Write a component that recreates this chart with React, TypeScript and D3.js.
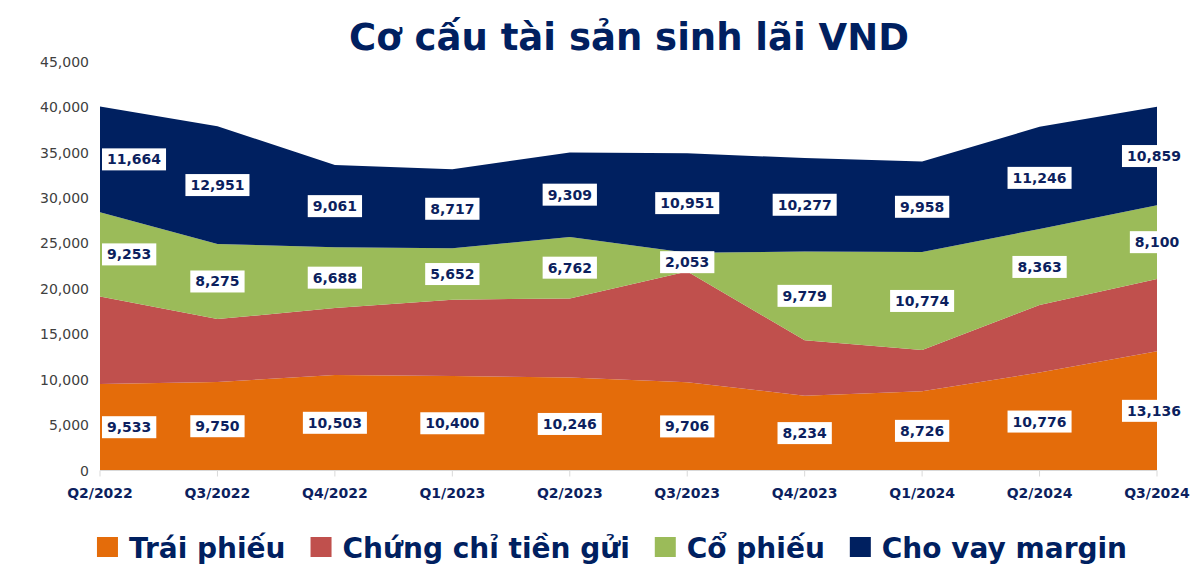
import React, { useEffect, useRef } from 'react';
import * as d3 from 'd3';

const categories = ['Q2/2022', 'Q3/2022', 'Q4/2022', 'Q1/2023', 'Q2/2023', 'Q3/2023', 'Q4/2023', 'Q1/2024', 'Q2/2024', 'Q3/2024'];
const traiPhieu = [9533, 9750, 10503, 10400, 10246, 9706, 8234, 8726, 10776, 13136];
const chungChiTienGui = [9630, 6920, 7380, 8400, 8700, 12200, 6100, 4550, 7450, 7950];
const coPhieu = [9253, 8275, 6688, 5652, 6762, 2053, 9779, 10774, 8363, 8100];
const choVayMargin = [11664, 12951, 9061, 8717, 9309, 10951, 10277, 9958, 11246, 10859];
const yTicks = [0, 5000, 10000, 15000, 20000, 25000, 30000, 35000, 40000, 45000];
const seriesNames = ['Trái phiếu', 'Chứng chỉ tiền gửi', 'Cổ phiếu', 'Cho vay margin'];
const seriesColors = ['#E46C0A', '#C0504D', '#9BBB59', '#002060'];
const showLabels = [true, false, true, true];
const title = 'Cơ cấu tài sản sinh lãi VND';

const W = 1200;
const H = 576;
const FONT = "'DejaVu Sans', Verdana, sans-serif";
const NAVY = '#0C1F5E';

export default function App() {
  const ref = useRef<SVGSVGElement>(null);

  useEffect(() => {
    const svg = d3.select(ref.current);
    svg.selectAll('*').remove();

    const left = 100, right = 1157, top = 61.7, bottom = 470.5;
    const x = d3.scalePoint<string>().domain(categories).range([left, right]);
    const y = d3.scaleLinear().domain([0, 45000]).range([bottom, top]);

    const rows = categories.map((c, i) => ({
      cat: c,
      s0: traiPhieu[i],
      s1: chungChiTienGui[i],
      s2: coPhieu[i],
      s3: choVayMargin[i],
    }));
    const keys = ['s0', 's1', 's2', 's3'];
    const stacked = d3.stack<any>().keys(keys)(rows);

    const area = d3.area<any>()
      .x((d) => x(d.data.cat) as number)
      .y0((d) => y(d[0]))
      .y1((d) => y(d[1]));

    // title
    svg.append('text')
      .attr('x', 629).attr('y', 50)
      .attr('text-anchor', 'middle')
      .attr('font-family', FONT)
      .attr('font-weight', 'bold')
      .attr('font-size', 37)
      .attr('fill', '#002060')
      .text(title);

    // areas
    svg.append('g').selectAll('path')
      .data(stacked)
      .join('path')
      .attr('d', (s) => area(s as any) as string)
      .attr('fill', (_, i) => seriesColors[i]);

    // y axis labels
    const gy = svg.append('g');
    yTicks.forEach((t) => {
      gy.append('text')
        .attr('x', 89).attr('y', y(t) + 5)
        .attr('text-anchor', 'end')
        .attr('font-family', FONT)
        .attr('font-size', 14)
        .attr('fill', '#404040')
        .text(d3.format(',')(t));
    });

    // x axis
    const gx = svg.append('g');
    gx.append('line')
      .attr('x1', left).attr('x2', right)
      .attr('y1', bottom).attr('y2', bottom)
      .attr('stroke', '#D9D9D9').attr('stroke-width', 1);
    categories.forEach((c) => {
      const xx = x(c) as number;
      gx.append('line')
        .attr('x1', xx).attr('x2', xx)
        .attr('y1', bottom).attr('y2', bottom + 6)
        .attr('stroke', '#D9D9D9').attr('stroke-width', 1);
      gx.append('text')
        .attr('x', xx).attr('y', 498)
        .attr('text-anchor', 'middle')
        .attr('font-family', FONT)
        .attr('font-weight', 'bold')
        .attr('font-size', 14)
        .attr('fill', NAVY)
        .text(c);
    });

    // data labels
    const gl = svg.append('g');
    stacked.forEach((s, si) => {
      if (!showLabels[si]) return;
      s.forEach((d: any) => {
        const val = d[1] - d[0];
        const cx = x(d.data.cat) as number;
        const cy = y((d[0] + d[1]) / 2);
        const g = gl.append('g');
        const rect = g.append('rect').attr('fill', '#FFFFFF');
        const txt = g.append('text')
          .attr('text-anchor', 'middle')
          .attr('font-family', FONT)
          .attr('font-weight', 'bold')
          .attr('font-size', 14)
          .attr('fill', NAVY)
          .text(d3.format(',')(val));
        const tw = (txt.node() as SVGTextElement).getComputedTextLength();
        const bw = tw + 10;
        const bh = 22;
        let px = cx;
        px = Math.max(px, left + bw / 2 + 2);
        px = Math.min(px, 1186 - bw / 2);
        rect.attr('x', px - bw / 2).attr('y', cy - bh / 2).attr('width', bw).attr('height', bh);
        txt.attr('x', px).attr('y', cy + 5);
      });
    });

    // legend
    const gleg = svg.append('g');
    const items: { g: any; w: number }[] = [];
    seriesNames.forEach((n, i) => {
      const g = gleg.append('g');
      g.append('rect')
        .attr('x', 0).attr('y', 537).attr('width', 21).attr('height', 20)
        .attr('fill', seriesColors[i]);
      const t = g.append('text')
        .attr('x', 32).attr('y', 558)
        .attr('font-family', FONT)
        .attr('font-weight', 'bold')
        .attr('font-size', 28)
        .attr('fill', '#002060')
        .text(n);
      const tw = (t.node() as SVGTextElement).getComputedTextLength();
      items.push({ g, w: 32 + tw });
    });
    const gap = 25;
    const total = d3.sum(items, (d) => d.w) + gap * (items.length - 1);
    let cur = 612 - total / 2;
    items.forEach((it) => {
      it.g.attr('transform', `translate(${cur},0)`);
      cur += it.w + gap;
    });
  }, []);

  return (
    <svg
      ref={ref}
      width={W}
      height={H}
      style={{ position: 'absolute', left: 0, top: 0, display: 'block', background: '#FFFFFF' }}
    />
  );
}
